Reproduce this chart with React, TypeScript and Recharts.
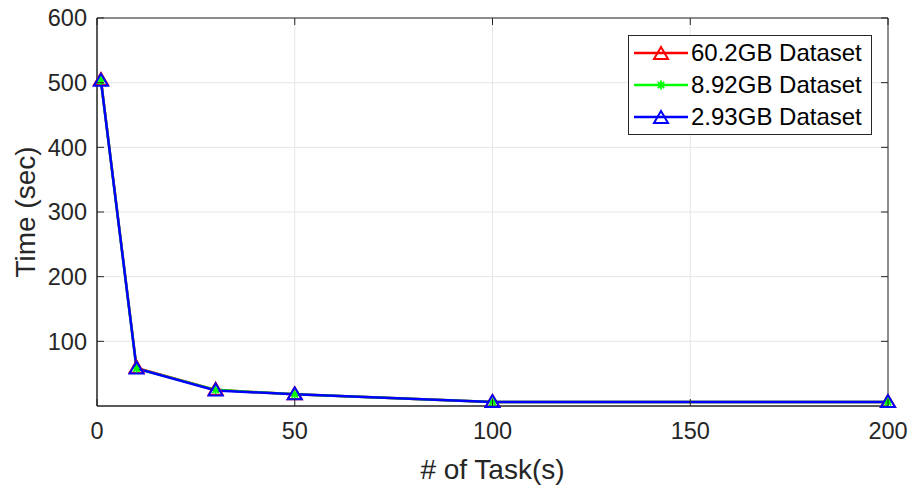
import React from 'react';
import { LineChart, Line, XAxis, YAxis, CartesianGrid, Legend, ReferenceArea } from 'recharts';

const tasks = [1, 10, 30, 50, 100, 200];
const time602 = [504, 59, 25, 18, 6, 6];
const time892 = [503, 58, 25, 18, 6, 6];
const time293 = [503, 58, 24, 18, 6, 6];
const xTicks = [0, 50, 100, 150, 200];
const yTicks = [100, 200, 300, 400, 500, 600];
const seriesNames = ['60.2GB Dataset', '8.92GB Dataset', '2.93GB Dataset'];
const seriesColors = ['#ff0000', '#00ff00', '#0000ff'];
const seriesKeys = ['a', 'b', 'c'];

const data = tasks.map((t, i) => ({ t, a: time602[i], b: time892[i], c: time293[i] }));

const W = 911;
const H = 491;
const M = { top: 18, right: 23, left: 0, bottom: 0 };
const YW = 97;
const XH = 85;
const PLOT_W = W - M.left - M.right - YW;
const PLOT_H = H - M.top - M.bottom - XH;
const FONT = '"Liberation Sans", Arial, Helvetica, sans-serif';
const INK = '#262626';

const Triangle = (props: any) => {
  const { cx, cy, stroke } = props;
  if (cx == null || cy == null) return null;
  return (
    <polygon
      points={`${cx},${cy - 7} ${cx - 7},${cy + 5} ${cx + 7},${cy + 5}`}
      fill="none"
      stroke={stroke}
      strokeWidth={2}
    />
  );
};

const Star = (props: any) => {
  const { cx, cy, stroke } = props;
  if (cx == null || cy == null) return null;
  const r = 4.5;
  const d = r * 0.707;
  return (
    <g stroke={stroke} strokeWidth={1.8}>
      <line x1={cx - r} y1={cy} x2={cx + r} y2={cy} />
      <line x1={cx} y1={cy - r} x2={cx} y2={cy + r} />
      <line x1={cx - d} y1={cy - d} x2={cx + d} y2={cy + d} />
      <line x1={cx - d} y1={cy + d} x2={cx + d} y2={cy - d} />
    </g>
  );
};

const XTick = (props: any) => {
  const { x, y, payload } = props;
  return (
    <g>
      <line x1={x} y1={y} x2={x} y2={y - 7} stroke={INK} strokeWidth={1} />
      <line x1={x} y1={y - PLOT_H} x2={x} y2={y - PLOT_H + 7} stroke={INK} strokeWidth={1} />
      <text x={x} y={y + 16} dy="0.71em" textAnchor="middle" fontSize={23.5} fontFamily={FONT} fill={INK}>
        {payload.value}
      </text>
    </g>
  );
};

const YTick = (props: any) => {
  const { x, y, payload } = props;
  return (
    <g>
      <line x1={x} y1={y} x2={x + 7} y2={y} stroke={INK} strokeWidth={1} />
      <line x1={x + PLOT_W} y1={y} x2={x + PLOT_W - 7} y2={y} stroke={INK} strokeWidth={1} />
      <text x={x - 10} y={y} dy="0.36em" textAnchor="end" fontSize={23.5} fontFamily={FONT} fill={INK}>
        {payload.value}
      </text>
    </g>
  );
};

const LegendBox = () => (
  <div
    style={{
      border: `1px solid ${INK}`,
      background: '#fff',
      width: 242,
      padding: '1px 0',
      fontFamily: FONT,
      fontSize: 24,
      color: '#000',
      boxSizing: 'content-box',
    }}
  >
    {seriesNames.map((name, i) => (
      <div key={name} style={{ display: 'flex', alignItems: 'center', height: 32 }}>
        <svg width={62} height={32} style={{ display: 'block' }}>
          <line x1={5} y1={16} x2={59} y2={16} stroke={seriesColors[i]} strokeWidth={2.5} />
          {i === 1 ? (
            <Star cx={32} cy={16} stroke={seriesColors[i]} />
          ) : (
            <Triangle cx={32} cy={17} stroke={seriesColors[i]} />
          )}
        </svg>
        <span style={{ whiteSpace: 'nowrap' }}>{name}</span>
      </div>
    ))}
  </div>
);

export default function App() {
  return (
    <div style={{ position: 'absolute', left: 0, top: 0, width: W, height: H, background: '#fff' }}>
      <LineChart width={W} height={H} data={data} margin={M}>
        <CartesianGrid stroke="#e6e6e6" strokeWidth={1} />
        <XAxis
          dataKey="t"
          type="number"
          domain={[0, 200]}
          ticks={xTicks}
          interval={0}
          height={XH}
          tickSize={0}
          tickMargin={0}
          tickLine={false}
          axisLine={{ stroke: INK, strokeWidth: 1 }}
          tick={<XTick />}
          label={{
            value: '# of Task(s)',
            position: 'insideBottom',
            offset: 12,
            fontSize: 28,
            fontFamily: FONT,
            fill: INK,
          }}
        />
        <YAxis
          type="number"
          domain={[0, 600]}
          ticks={yTicks}
          interval={0}
          width={YW}
          tickSize={0}
          tickMargin={0}
          tickLine={false}
          axisLine={{ stroke: INK, strokeWidth: 1 }}
          tick={<YTick />}
          label={{
            value: 'Time (sec)',
            angle: -90,
            position: 'insideLeft',
            offset: 25,
            fontSize: 28,
            fontFamily: FONT,
            fill: INK,
            style: { textAnchor: 'middle' },
          }}
        />
        <ReferenceArea x1={0} x2={200} y1={0} y2={600} fill="none" stroke={INK} strokeWidth={1} ifOverflow="visible" />
        {seriesKeys.map((k, i) => (
          <Line
            key={k}
            dataKey={k}
            name={seriesNames[i]}
            stroke={seriesColors[i]}
            strokeWidth={2.5}
            dot={i === 1 ? <Star /> : <Triangle />}
            activeDot={false}
            isAnimationActive={false}
          />
        ))}
        <Legend
          layout="vertical"
          align="center"
          verticalAlign="middle"
          content={<LegendBox />}
          wrapperStyle={{ left: 628, top: 35, width: 244, height: 98 }}
        />
      </LineChart>
    </div>
  );
}
